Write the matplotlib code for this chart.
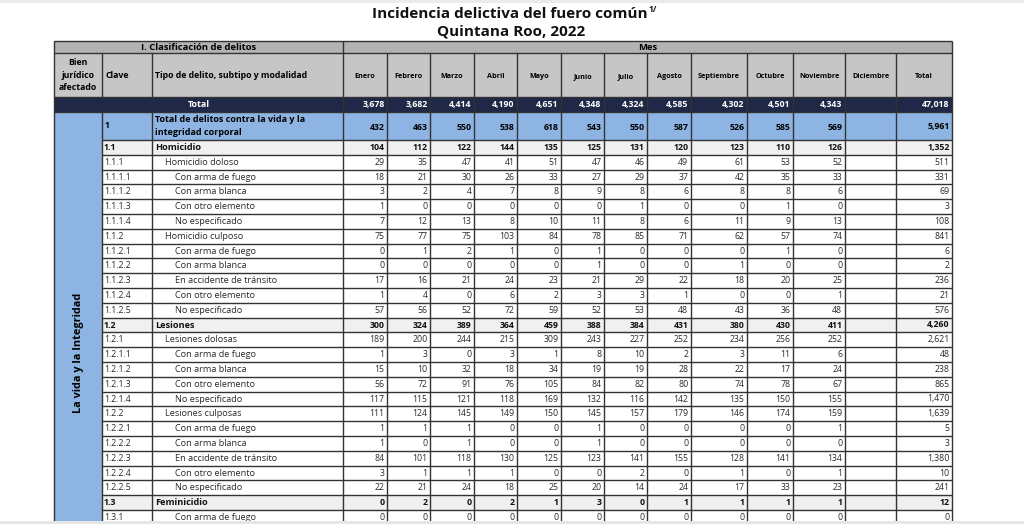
import numpy as np
import matplotlib.pyplot as plt
from matplotlib.patches import Rectangle

plt.rcParams['font.family'] = ['Open Sans', 'DejaVu Sans']

titulo = "Incidencia delictiva del fuero común"
subtitulo = "Quintana Roo, 2022"
bien_juridico = "La vida y la Integridad"

meses = ['Enero', 'Febrero', 'Marzo', 'Abril', 'Mayo', 'Junio', 'Julio',
         'Agosto', 'Septiembre', 'Octubre', 'Noviembre', 'Diciembre', 'Total']

# total general
total_mes = [3678, 3682, 4414, 4190, 4651, 4348, 4324, 4585, 4302, 4501, 4343]
total_anual = 47018

# renglon "1" (dos lineas de texto)
vida_mes = [432, 463, 550, 538, 618, 543, 550, 587, 526, 585, 569]
vida_anual = 5961

claves = ['1.1', '1.1.1', '1.1.1.1', '1.1.1.2', '1.1.1.3', '1.1.1.4',
          '1.1.2', '1.1.2.1', '1.1.2.2', '1.1.2.3', '1.1.2.4', '1.1.2.5',
          '1.2', '1.2.1', '1.2.1.1', '1.2.1.2', '1.2.1.3', '1.2.1.4',
          '1.2.2', '1.2.2.1', '1.2.2.2', '1.2.2.3', '1.2.2.4', '1.2.2.5',
          '1.3', '1.3.1']

tipos = ['Homicidio', 'Homicidio doloso', 'Con arma de fuego', 'Con arma blanca',
         'Con otro elemento', 'No especificado', 'Homicidio culposo',
         'Con arma de fuego', 'Con arma blanca', 'En accidente de tránsito',
         'Con otro elemento', 'No especificado', 'Lesiones', 'Lesiones dolosas',
         'Con arma de fuego', 'Con arma blanca', 'Con otro elemento',
         'No especificado', 'Lesiones culposas', 'Con arma de fuego',
         'Con arma blanca', 'En accidente de tránsito', 'Con otro elemento',
         'No especificado', 'Feminicidio', 'Con arma de fuego']

# 1 = tipo (negrita), 2 = subtipo, 3 = modalidad
niveles = [1, 2, 3, 3, 3, 3, 2, 3, 3, 3, 3, 3,
           1, 2, 3, 3, 3, 3, 2, 3, 3, 3, 3, 3,
           1, 3]

valores = [
    [104, 112, 122, 144, 135, 125, 131, 120, 123, 110, 126],
    [29, 35, 47, 41, 51, 47, 46, 49, 61, 53, 52],
    [18, 21, 30, 26, 33, 27, 29, 37, 42, 35, 33],
    [3, 2, 4, 7, 8, 9, 8, 6, 8, 8, 6],
    [1, 0, 0, 0, 0, 0, 1, 0, 0, 1, 0],
    [7, 12, 13, 8, 10, 11, 8, 6, 11, 9, 13],
    [75, 77, 75, 103, 84, 78, 85, 71, 62, 57, 74],
    [0, 1, 2, 1, 0, 1, 0, 0, 0, 1, 0],
    [0, 0, 0, 0, 0, 1, 0, 0, 1, 0, 0],
    [17, 16, 21, 24, 23, 21, 29, 22, 18, 20, 25],
    [1, 4, 0, 6, 2, 3, 3, 1, 0, 0, 1],
    [57, 56, 52, 72, 59, 52, 53, 48, 43, 36, 48],
    [300, 324, 389, 364, 459, 388, 384, 431, 380, 430, 411],
    [189, 200, 244, 215, 309, 243, 227, 252, 234, 256, 252],
    [1, 3, 0, 3, 1, 8, 10, 2, 3, 11, 6],
    [15, 10, 32, 18, 34, 19, 19, 28, 22, 17, 24],
    [56, 72, 91, 76, 105, 84, 82, 80, 74, 78, 67],
    [117, 115, 121, 118, 169, 132, 116, 142, 135, 150, 155],
    [111, 124, 145, 149, 150, 145, 157, 179, 146, 174, 159],
    [1, 1, 1, 0, 0, 1, 0, 0, 0, 0, 1],
    [1, 0, 1, 0, 0, 1, 0, 0, 0, 0, 0],
    [84, 101, 118, 130, 125, 123, 141, 155, 128, 141, 134],
    [3, 1, 1, 1, 0, 0, 2, 0, 1, 0, 1],
    [22, 21, 24, 18, 25, 20, 14, 24, 17, 33, 23],
    [0, 2, 0, 2, 1, 3, 0, 1, 1, 1, 1],
    [0, 0, 0, 0, 0, 0, 0, 0, 0, 0, 0],
]
totales = [1352, 511, 331, 69, 3, 108, 841, 6, 2, 236, 21, 576, 4260, 2621,
           48, 238, 865, 1470, 1639, 5, 3, 1380, 10, 241, 12, 0]

# colores
GRIS_SUP = '#b3b3b3'
GRIS_ENC = '#c6c6c6'
AZUL_OSC = '#1f2947'
AZUL = '#8db4e2'
GRIS_SUB = '#f0f0f0'
LINEA = '#333333'
TEXTO = '#2a2a2a'

# geometria (pixeles)
cols = [54, 102, 152, 343, 387, 430, 474, 517, 561, 604, 647, 691, 747, 793, 845, 896, 952]
y_sup, y_enc, y_tot, y_vida, y_fil = 41, 53, 97, 112, 140
alto = 14.8
y_fin = 530

fig = plt.figure(figsize=(10.24, 5.24), dpi=100)
ax = fig.add_axes([0, 0, 1, 1])
ax.set_xlim(0, 1024)
ax.set_ylim(524, 0)
ax.axis('off')


def caja(x0, y0, x1, y1, color, z=1):
    ax.add_patch(Rectangle((x0, y0), x1 - x0, y1 - y0, facecolor=color, edgecolor='none', zorder=z))


def fmt(v):
    return f"{v:,}"


# franja gris superior de la captura
caja(0, 0, 1024, 3, '#ebebeb')

# titulo
t = ax.text(510, 14, titulo, ha='center', va='center', fontsize=11, fontweight='bold', color='#111111')
fig.canvas.draw()
bb = t.get_window_extent().transformed(ax.transData.inverted())
ax.text(max(bb.x0, bb.x1) + 1, 9, '1/', fontsize=6, fontweight='bold', ha='left', va='center', color='#111111')
ax.text(511, 32, subtitulo, ha='center', va='center', fontsize=11, fontweight='bold', color='#111111')

# encabezados
caja(cols[0], y_sup, cols[-1], y_enc, GRIS_SUP)
caja(cols[0], y_enc, cols[-1], y_tot, GRIS_ENC)
ax.text((cols[0] + cols[3]) / 2, (y_sup + y_enc) / 2, 'I. Clasificación de delitos',
        ha='center', va='center', fontsize=6.8, fontweight='bold')
ax.text((cols[3] + cols[-1]) / 2, (y_sup + y_enc) / 2, 'Mes',
        ha='center', va='center', fontsize=6.8, fontweight='bold')
ax.text((cols[0] + cols[1]) / 2, 75, 'Bien\njurídico\nafectado', ha='center', va='center',
        fontsize=6.3, fontweight='bold', linespacing=1.45)
ax.text(cols[1] + 3, 75, 'Clave', ha='left', va='center', fontsize=6.3, fontweight='bold')
ax.text(cols[2] + 3, 75, 'Tipo de delito, subtipo y modalidad', ha='left', va='center',
        fontsize=6.3, fontweight='bold')
for i, m in enumerate(meses):
    ax.text((cols[3 + i] + cols[4 + i]) / 2, 77, m, ha='center', va='center',
            fontsize=5.2, fontweight='bold')

# fila total
caja(cols[0], y_tot, cols[-1], y_vida, AZUL_OSC)
ax.text((cols[0] + cols[3]) / 2, (y_tot + y_vida) / 2, 'Total', ha='center', va='center',
        fontsize=6.5, fontweight='bold', color='white')
for i, v in enumerate(total_mes + [None, total_anual]):
    if v is not None:
        ax.text(cols[4 + i] - 2.5, (y_tot + y_vida) / 2, fmt(v), ha='right', va='center',
                fontsize=6.3, fontweight='bold', color='white')

# fila "1"
caja(cols[0], y_vida, cols[-1], y_fil, AZUL)
ax.text(cols[1] + 3, (y_vida + y_fil) / 2, '1', ha='left', va='center', fontsize=6.3, fontweight='bold')
ax.text(cols[2] + 3, (y_vida + y_fil) / 2, 'Total de delitos contra la vida y la\nintegridad corporal',
        ha='left', va='center', fontsize=6.5, fontweight='bold', linespacing=1.5)
for i, v in enumerate(vida_mes + [None, vida_anual]):
    if v is not None:
        ax.text(cols[4 + i] - 2.5, (y_vida + y_fil) / 2 + 1, fmt(v), ha='right', va='center',
                fontsize=6.3, fontweight='bold')

# columna del bien juridico
caja(cols[0], y_vida, cols[1], y_fin, AZUL)
ax.text((cols[0] + cols[1]) / 2, 353, bien_juridico, rotation=90, ha='center', va='center',
        fontsize=7.8, fontweight='bold')

# filas de detalle
filas_y = [y_fil + k * alto for k in range(len(claves) + 1)]
for k, (cl, tp, nv, vals, tot) in enumerate(zip(claves, tipos, niveles, valores, totales)):
    y0 = filas_y[k]
    yc = y0 + alto / 2
    negrita = nv == 1
    peso = 'bold' if negrita else 'normal'
    color = '#111111' if negrita else TEXTO
    caja(cols[1], y0, cols[-1], y0 + alto, GRIS_SUB if negrita else 'white')
    ax.text(cols[1] + 2, yc, cl, ha='left', va='center', fontsize=6.3, fontweight=peso, color=color)
    ax.text(cols[2] + 3 + 10 * (nv - 1), yc, tp, ha='left', va='center', fontsize=6.6,
            fontweight=peso, color=color)
    for i, v in enumerate(vals + [None, tot]):
        if v is not None:
            ax.text(cols[4 + i] - 2.5, yc, fmt(v), ha='right', va='center', fontsize=6.3,
                    fontweight=peso, color=color)

# lineas
lw = 1.0
ax.hlines([y_sup, y_enc, y_tot], cols[0], cols[-1], color=LINEA, lw=lw, zorder=3)
ax.hlines([y_vida], cols[0], cols[-1], color=LINEA, lw=lw, zorder=3)
ax.hlines(filas_y, cols[1], cols[-1], color=LINEA, lw=lw, zorder=3)
ax.vlines([cols[0], cols[3], cols[-1]], y_sup, y_fin, color=LINEA, lw=lw, zorder=3)
ax.vlines(cols[1:3], y_enc, y_tot, color=LINEA, lw=lw, zorder=3)
ax.vlines(cols[1:3], y_vida, y_fin, color=LINEA, lw=lw, zorder=3)
ax.vlines(cols[4:-1], y_enc, y_fin, color=LINEA, lw=lw, zorder=3)

# franja gris inferior de la captura
caja(0, 521, 1024, 524, '#e6e6e6', z=5)

fig.savefig('out.png', dpi=100)
